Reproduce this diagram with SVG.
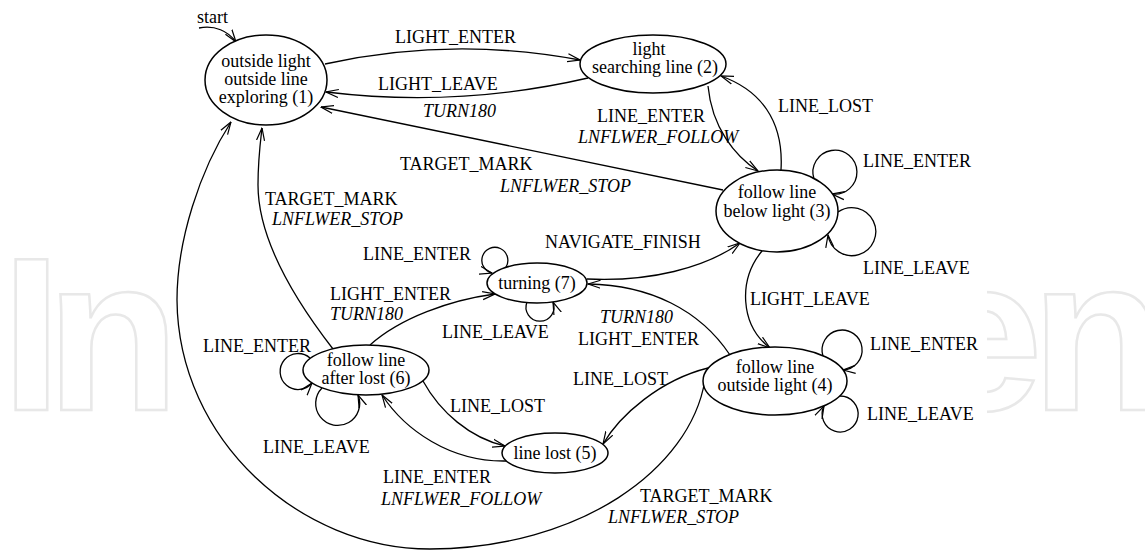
<svg xmlns="http://www.w3.org/2000/svg" width="1145" height="551" viewBox="0 0 1145 551">
<style>
.wm{font-family:"Liberation Sans",Arial,sans-serif;font-weight:bold;font-size:219px;fill:#ffffff;stroke:#e8e8e8;stroke-width:2.5}
.n{fill:#fff;stroke:#000;stroke-width:1.5}
.t{font-family:"Liberation Serif","Times New Roman",serif;font-size:18px;fill:#000}
.c{text-anchor:middle}
.i{font-style:italic}
.e{fill:none;stroke:#000;stroke-width:1.3;marker-end:url(#ah)}
</style>
<defs>
<marker id="ah" viewBox="0 0 13 10" refX="12.5" refY="5" markerWidth="13" markerHeight="10" markerUnits="userSpaceOnUse" orient="auto">
<path d="M0,1 L12.5,5 L0,9" fill="none" stroke="#000" stroke-width="1.2"/>
</marker>
<clipPath id="cl"><rect x="987" y="0" width="158" height="551"/></clipPath>
</defs>
<rect width="1145" height="551" fill="#fff"/>
<g id="watermark">
<text class="wm" x="1" y="410">I</text>
<text class="wm" x="46" y="410">n</text>
<text class="wm" x="921" y="410" clip-path="url(#cl)">e</text>
<text class="wm" x="1031" y="410">n</text>
</g>
<g id="connectors">
<path class="e" d="M199,28 C215,25 228,31 236,42"/>
<path class="e" d="M325,64 Q452,36 580,60"/>
<path class="e" d="M588,78 Q458,108 326,92"/>
<path class="e" d="M723,190 L321,107"/>
<path class="e" d="M708,86 C712,128 735,156 758,171"/>
<path class="e" d="M781,170 C784,120 760,90 721,76"/>
<path class="e" d="M814,179 A22,22 0 1 1 832,194"/>
<path class="e" d="M838,212 A24,24 0 1 1 828,235"/>
<path class="e" d="M587,279 C650,282 705,268 740,243"/>
<path class="e" d="M762,251 C738,280 740,325 770,348"/>
<path class="e" d="M823,356 A20,20 0 1 1 843,370"/>
<path class="e" d="M840,396 A18,18 0 1 1 824,406"/>
<path class="e" d="M730,355 C700,310 650,285 588,284"/>
<path class="e" d="M708,368 C660,380 620,415 603,444"/>
<path class="e" d="M705,380 C690,470 580,548 430,549 C300,549 178,440 177,300 C177,240 200,170 231,122"/>
<path class="e" d="M506,267 A13,13 0 1 0 492,273"/>
<path class="e" d="M527,302 A14,14 0 1 0 553,302"/>
<path class="e" d="M370,345 C400,318 450,300 495,294"/>
<path class="e" d="M333,349 C295,300 258,240 258,185 C258,160 260,145 262,128"/>
<path class="e" d="M310,358 A18,18 0 1 0 312,383"/>
<path class="e" d="M322,388 A22,22 0 1 0 358,395"/>
<path class="e" d="M423,381 C440,412 470,438 505,446"/>
<path class="e" d="M506,461 C450,462 405,430 382,395"/>
</g>
<g id="labels">
<text class="t" x="197" y="23">start</text>
<text class="t" x="395" y="43">LIGHT_ENTER</text>
<text class="t" x="378" y="90">LIGHT_LEAVE</text>
<text class="t i" x="423" y="117">TURN180</text>
<text class="t" x="597" y="122">LINE_ENTER</text>
<text class="t i" x="578" y="143">LNFLWER_FOLLOW</text>
<text class="t" x="778" y="112">LINE_LOST</text>
<text class="t" x="400" y="170">TARGET_MARK</text>
<text class="t i" x="500" y="192">LNFLWER_STOP</text>
<text class="t" x="863" y="167">LINE_ENTER</text>
<text class="t" x="863" y="274">LINE_LEAVE</text>
<text class="t" x="265" y="205">TARGET_MARK</text>
<text class="t i" x="272" y="225">LNFLWER_STOP</text>
<text class="t" x="545" y="248">NAVIGATE_FINISH</text>
<text class="t" x="363" y="260">LINE_ENTER</text>
<text class="t" x="442" y="338">LINE_LEAVE</text>
<text class="t" x="330" y="300">LIGHT_ENTER</text>
<text class="t i" x="330" y="320">TURN180</text>
<text class="t" x="750" y="305">LIGHT_LEAVE</text>
<text class="t i" x="600" y="323">TURN180</text>
<text class="t" x="578" y="345">LIGHT_ENTER</text>
<text class="t" x="870" y="350">LINE_ENTER</text>
<text class="t" x="867" y="420">LINE_LEAVE</text>
<text class="t" x="573" y="385">LINE_LOST</text>
<text class="t" x="203" y="352">LINE_ENTER</text>
<text class="t" x="263" y="453">LINE_LEAVE</text>
<text class="t" x="450" y="412">LINE_LOST</text>
<text class="t" x="383" y="483">LINE_ENTER</text>
<text class="t i" x="381" y="505">LNFLWER_FOLLOW</text>
<text class="t" x="640" y="502">TARGET_MARK</text>
<text class="t i" x="608" y="523">LNFLWER_STOP</text>
</g>
<g id="n1">
<ellipse class="n" cx="266" cy="80" rx="61" ry="45"/>
<text class="t c" x="266" y="67">outside light</text>
<text class="t c" x="266" y="85">outside line</text>
<text class="t c" x="266" y="103">exploring (1)</text>
</g>
<g id="n2">
<ellipse class="n" cx="653" cy="64" rx="73" ry="29"/>
<text class="t c" x="649" y="55">light</text>
<text class="t c" x="655" y="73">searching line (2)</text>
</g>
<g id="n3">
<ellipse class="n" cx="777" cy="211" rx="61" ry="41"/>
<text class="t c" x="777" y="198">follow line</text>
<text class="t c" x="777" y="217">below light (3)</text>
</g>
<g id="n4">
<ellipse class="n" cx="775" cy="381" rx="72" ry="34"/>
<text class="t c" x="775" y="373">follow line</text>
<text class="t c" x="775" y="391">outside light (4)</text>
</g>
<g id="n5">
<ellipse class="n" cx="555" cy="453" rx="53" ry="20"/>
<text class="t c" x="555" y="459">line lost (5)</text>
</g>
<g id="n6">
<ellipse class="n" cx="366" cy="370" rx="63" ry="25"/>
<text class="t c" x="366" y="366">follow line</text>
<text class="t c" x="366" y="384">after lost (6)</text>
</g>
<g id="n7">
<ellipse class="n" cx="537" cy="283" rx="50" ry="20"/>
<text class="t c" x="537" y="289">turning (7)</text>
</g>
</svg>
